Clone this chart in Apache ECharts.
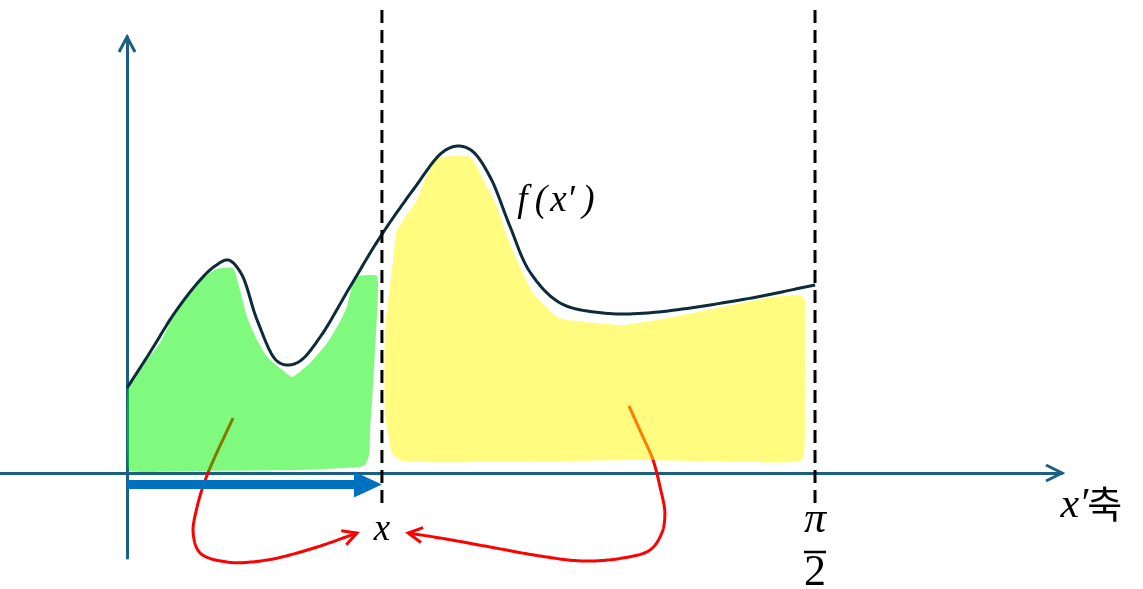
<!DOCTYPE html>
<html>
<head>
<meta charset="utf-8">
<script src="https://cdn.jsdelivr.net/npm/echarts@6/dist/echarts.min.js"></script>
<style>
html,body{margin:0;padding:0;background:#fff;}
#c{width:1143px;height:589px;}
</style>
</head>
<body>
<div id="c"></div>
<script>
// ---------- values (x' axis units, f in arbitrary units) ----------
const X_POS = 0.582;              // the point x on the x' axis
const HALF_PI = Math.PI / 2;      // right end of the interval
const X_RANGE = [-0.29, 2.1347];  // x' axis extent
const Y_RANGE = [-0.85, 4.36];    // vertical axis extent
const GUIDE_TOP = 4.63;           // top of dashed guides
const GUIDE_BOTTOM = -0.31;       // bottom of dashed guides
const BLUE_ARROW_Y = -0.115;

const fCurve = [
  [0,0.85],[0.053,1.21],[0.110,1.61],[0.167,1.93],[0.201,2.07],[0.231,2.13],[0.260,2.00],
  [0.297,1.53],[0.340,1.13],[0.365,1.08],[0.395,1.12],[0.441,1.36],[0.509,1.86],
  [0.578,2.36],[0.653,2.83],[0.721,3.21],[0.756,3.27],[0.788,3.22],[0.829,2.96],
  [0.874,2.47],[0.920,2.01],[0.989,1.70],[1.087,1.60],[1.187,1.60],[1.400,1.73],
  [1.571,1.88]
];

const greenRegion = [
  [0.002,0.83],[0.037,1.08],[0.075,1.30],[0.105,1.56],[0.144,1.83],[0.189,2.00],
  [0.205,2.04],[0.242,2.05],[0.258,1.83],[0.274,1.56],[0.297,1.33],[0.320,1.16],
  [0.349,1.05],[0.377,0.96],[0.418,1.10],[0.457,1.30],[0.486,1.51],[0.502,1.66],
  [0.521,1.96],[0.571,1.97],[0.571,1.61],[0.562,0.90],[0.555,0.43],[0.553,0.18],
  [0.543,0.08],[0.532,0.06],[0.395,0.03],[0.167,0.02],[0.037,0.01],[0.004,0.03]
];

const yellowRegion = [
  [0.616,2.43],[0.662,2.73],[0.680,2.93],[0.699,3.10],[0.715,3.16],[0.783,3.16],
  [0.822,2.86],[0.845,2.66],[0.868,2.36],[0.897,2.06],[0.927,1.80],[0.982,1.56],
  [1.005,1.53],[1.132,1.48],[1.247,1.56],[1.324,1.63],[1.475,1.76],[1.537,1.78],
  [1.548,1.73],[1.548,0.60],[1.541,0.13],[1.416,0.11],[1.171,0.13],[0.868,0.11],
  [0.646,0.11],[0.623,0.13],[0.605,0.20],[0.589,0.60],[0.589,1.43],[0.607,2.10],
  [0.612,2.33]
];

const leftRedPath = [
  [0.242,0.55],[0.183,-0.02],[0.160,-0.34],[0.151,-0.60],[0.167,-0.80],
  [0.228,-0.89],[0.320,-0.87],[0.434,-0.74],[0.525,-0.60]
];
const rightRedPath = [
  [1.146,0.67],[1.178,0.36],[1.201,0.13],[1.217,-0.14],[1.228,-0.40],[1.221,-0.60],
  [1.194,-0.77],[1.132,-0.85],[1.041,-0.88],[0.943,-0.83],[0.829,-0.74],
  [0.715,-0.65],[0.642,-0.60]
];

const labelTexts = { point: 'x', curve: 'f\u2009(\u200ax\u2032\u2009)', axisVar: 'x\u2032', axisWord: '축', num: 'π', den: '2' };
const labelAnchors = {
  point: [X_POS, -0.57],
  curve: [0.979, 2.72],
  axis: [2.19, -0.33],
  num: [HALF_PI, -0.47],
  bar: [HALF_PI, -0.79],
  den: [HALF_PI, -1.00]
};

// ---------- styles ----------
const AXIS_COLOR = '#1d5f80';
const CURVE_COLOR = '#0d2b3a';
const RED = '#ff0000';
const MATH_FONT = '"Liberation Serif", "DejaVu Serif", serif';

const chart = echarts.init(document.getElementById('c'));

// centripetal Catmull-Rom through pixel points
function spline(P, steps) {
  const out = [];
  const n = P.length;
  const d = (a, b) => Math.max(Math.pow(Math.hypot(b[0] - a[0], b[1] - a[1]), 0.5), 1e-4);
  for (let i = 0; i < n - 1; i++) {
    const p1 = P[i], p2 = P[i + 1];
    const p0 = i > 0 ? P[i - 1] : [2 * p1[0] - p2[0], 2 * p1[1] - p2[1]];
    const p3 = i < n - 2 ? P[i + 2] : [2 * p2[0] - p1[0], 2 * p2[1] - p1[1]];
    const t0 = 0, t1 = t0 + d(p0, p1), t2 = t1 + d(p1, p2), t3 = t2 + d(p2, p3);
    for (let k = 0; k < steps; k++) {
      const t = t1 + (t2 - t1) * k / steps;
      const pt = [0, 0];
      for (let j = 0; j < 2; j++) {
        const A1 = (t1 - t) / (t1 - t0) * p0[j] + (t - t0) / (t1 - t0) * p1[j];
        const A2 = (t2 - t) / (t2 - t1) * p1[j] + (t - t1) / (t2 - t1) * p2[j];
        const A3 = (t3 - t) / (t3 - t2) * p2[j] + (t - t2) / (t3 - t2) * p3[j];
        const B1 = (t2 - t) / (t2 - t0) * A1 + (t - t0) / (t2 - t0) * A2;
        const B2 = (t3 - t) / (t3 - t1) * A2 + (t - t1) / (t3 - t1) * A3;
        pt[j] = (t2 - t) / (t2 - t1) * B1 + (t - t1) / (t2 - t1) * B2;
      }
      out.push(pt);
    }
  }
  out.push(P[n - 1]);
  return out;
}

function chevronPx(t, f, len, half, color, width) {
  let dx = t[0] - f[0], dy = t[1] - f[1];
  const L = Math.hypot(dx, dy); dx /= L; dy /= L;
  const bx = t[0] - dx * len, by = t[1] - dy * len;
  return {
    type: 'polyline',
    shape: { points: [[bx - dy * half, by + dx * half], t, [bx + dy * half, by - dx * half]] },
    style: { stroke: color, lineWidth: width, fill: null, lineJoin: 'miter', lineCap: 'butt' }
  };
}

function regionSeries(name, pts, color) {
  return {
    type: 'custom', name, z: 3, clip: false, silent: true,
    data: [pts[0]],
    renderItem: (params, api) => ({
      type: 'polygon',
      shape: { points: pts.map(p => api.coord(p)), smooth: 0.15 },
      style: { fill: color }
    })
  };
}

function curveSeries(name, pts, color, width, z, withHead) {
  return {
    type: 'custom', name, z, clip: false, silent: true,
    data: [pts[0]],
    renderItem: (params, api) => {
      const px = spline(pts.map(p => api.coord(p)), 20);
      const children = [{
        type: 'polyline', shape: { points: px },
        style: { stroke: color, lineWidth: width, fill: null, lineJoin: 'round' }
      }];
      if (withHead) {
        const tip = px[px.length - 1];
        let k = px.length - 1;
        while (k > 0 && Math.hypot(px[k][0] - tip[0], px[k][1] - tip[1]) < 12) k--;
        children.push(chevronPx(tip, px[k], 14, 7.5, color, width));
      }
      return { type: 'group', children };
    }
  };
}

function guide(name, xv) {
  return {
    type: 'line', name, data: [[xv, GUIDE_TOP], [xv, GUIDE_BOTTOM]], showSymbol: false,
    clip: false, z: 4, silent: true,
    lineStyle: { color: '#000', width: 3, type: [13, 7] }
  };
}

const axisHeads = [
  { tip: [X_RANGE[1], 0], from: [0, 0], len: 16, half: 8 },
  { tip: [0, Y_RANGE[1]], from: [0, 0], len: 15, half: 8 }
];

const option = {
  animation: false,
  backgroundColor: '#ffffff',
  grid: { left: 0, right: 81, top: 37, bottom: 31, outerBoundsMode: 'none', containLabel: false },
  xAxis: {
    type: 'value', min: X_RANGE[0], max: X_RANGE[1],
    axisLine: { show: true, onZero: true, lineStyle: { color: AXIS_COLOR, width: 3 } },
    axisTick: { show: false }, axisLabel: { show: false }, splitLine: { show: false }
  },
  yAxis: {
    type: 'value', min: Y_RANGE[0], max: Y_RANGE[1],
    axisLine: { show: true, onZero: true, lineStyle: { color: AXIS_COLOR, width: 3 } },
    axisTick: { show: false }, axisLabel: { show: false }, splitLine: { show: false }
  },
  series: [
    curveSeries('toXleft', leftRedPath, RED, 3, 2, true),
    curveSeries('toXright', rightRedPath, RED, 3, 2, true),
    regionSeries('green', greenRegion, 'rgba(0,246,0,0.5)'),
    regionSeries('yellow', yellowRegion, 'rgba(255,250,0,0.5)'),
    curveSeries('f', fCurve, CURVE_COLOR, 3, 4, false),
    guide('guideX', X_POS),
    guide('guidePi', HALF_PI),
    {
      type: 'custom', name: 'blueArrow', z: 4, clip: false, silent: true,
      data: [[X_POS, BLUE_ARROW_Y]],
      renderItem: (params, api) => {
        const s = api.coord([0, BLUE_ARROW_Y]);
        const t = api.coord([X_POS, BLUE_ARROW_Y]);
        const headL = 28, headH = 13, shaft = 4.5;
        return {
          type: 'group', children: [
            { type: 'rect', shape: { x: s[0], y: t[1] - shaft, width: t[0] - headL + 2 - s[0], height: shaft * 2 }, style: { fill: '#0070c0' } },
            { type: 'polygon', shape: { points: [[t[0], t[1]], [t[0] - headL, t[1] - headH], [t[0] - headL, t[1] + headH]] }, style: { fill: '#0070c0' } }
          ]
        };
      }
    },
    {
      type: 'custom', name: 'axisHeads', z: 5, clip: false, silent: true,
      data: axisHeads.map(a => a.tip),
      renderItem: (params, api) => {
        const a = axisHeads[params.dataIndex];
        return chevronPx(api.coord(a.tip), api.coord(a.from), a.len, a.half, AXIS_COLOR, 3);
      }
    },
    {
      type: 'custom', name: 'labels', z: 6, clip: false, silent: true,
      data: [labelAnchors.point],
      renderItem: (params, api) => {
        const p = api.coord(labelAnchors.point);
        const c = api.coord(labelAnchors.curve);
        const ax = api.coord(labelAnchors.axis);
        const n = api.coord(labelAnchors.num);
        const b = api.coord(labelAnchors.bar);
        const d = api.coord(labelAnchors.den);
        return {
          type: 'group', children: [
            { type: 'text', x: p[0], y: p[1], style: { text: labelTexts.point, font: 'italic 37px ' + MATH_FONT, fill: '#000', align: 'center', verticalAlign: 'middle' } },
            { type: 'text', x: c[0], y: c[1], style: { text: labelTexts.curve, font: 'italic 37px ' + MATH_FONT, fill: '#000', align: 'center', verticalAlign: 'middle' } },
            { type: 'text', x: ax[0] + 2, y: ax[1], style: { text: labelTexts.axisVar, font: 'italic 42px ' + MATH_FONT, fill: '#000', align: 'right', verticalAlign: 'middle' } },
            { type: 'text', x: ax[0] + 1, y: ax[1] - 2, style: { text: labelTexts.axisWord, font: '38px "Noto Sans CJK KR", sans-serif', fill: '#000', align: 'left', verticalAlign: 'middle' } },
            { type: 'text', x: n[0], y: n[1], style: { text: labelTexts.num, font: 'italic 44px ' + MATH_FONT, fill: '#000', align: 'center', verticalAlign: 'middle' } },
            { type: 'line', shape: { x1: b[0] - 11, y1: b[1], x2: b[0] + 11, y2: b[1] }, style: { stroke: '#000', lineWidth: 2.5 } },
            { type: 'text', x: d[0], y: d[1], style: { text: labelTexts.den, font: '44px ' + MATH_FONT, fill: '#000', align: 'center', verticalAlign: 'middle' } }
          ]
        };
      }
    }
  ]
};
chart.setOption(option);
</script>
</body>
</html>
